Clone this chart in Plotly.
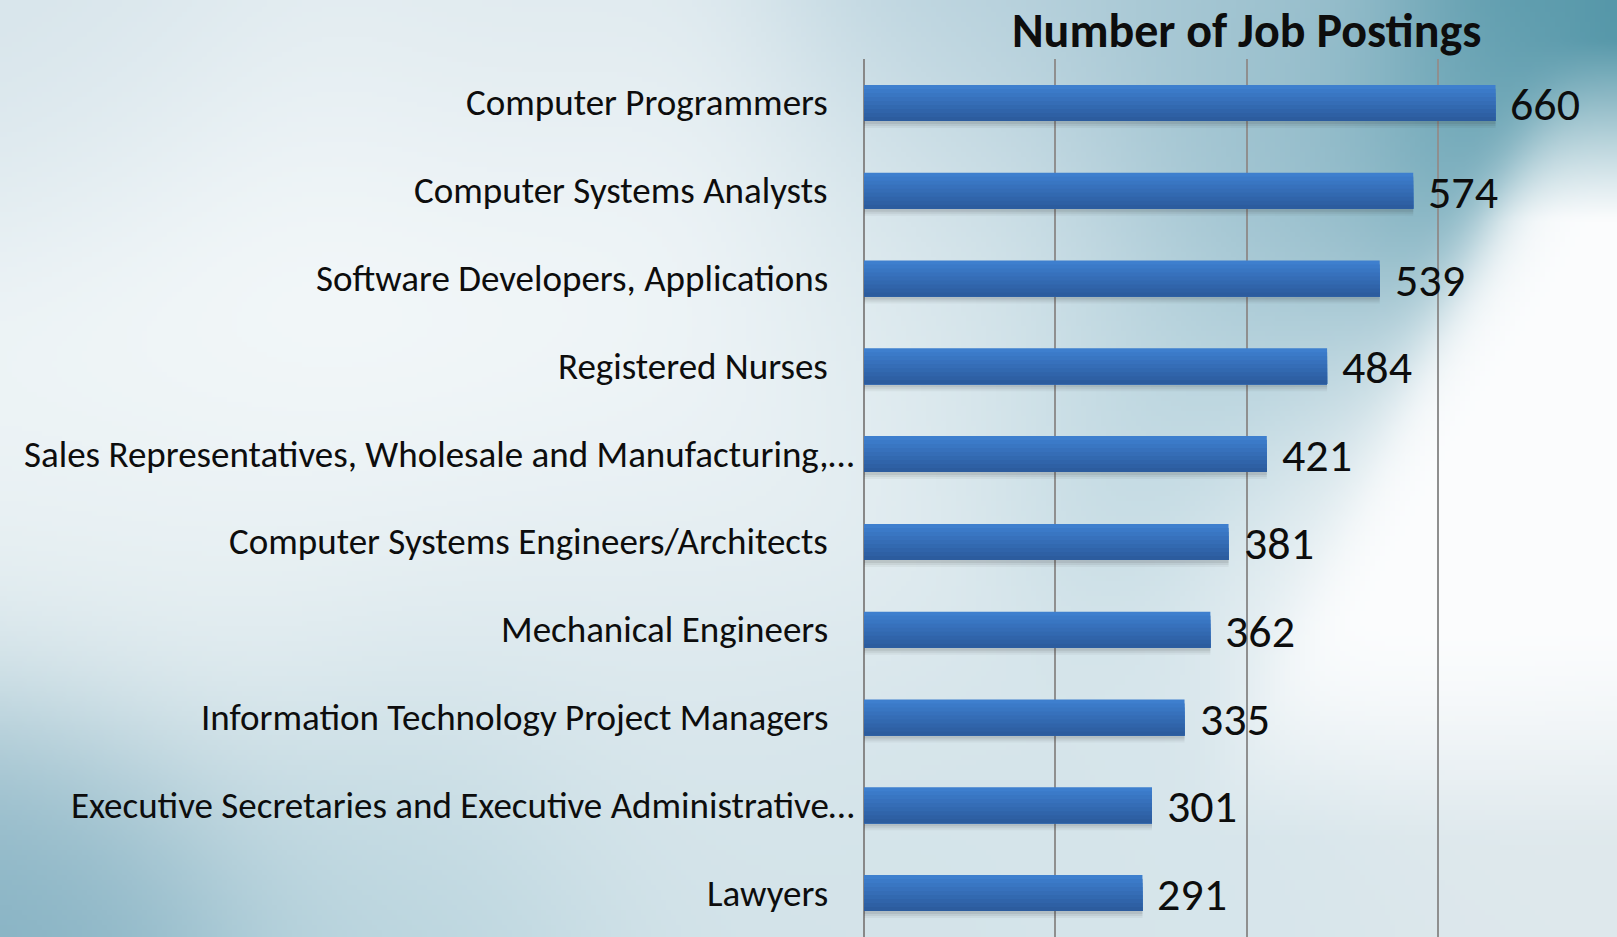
import base64
import struct
import zlib

import numpy as np
import plotly.graph_objects as go

# ---------------- data ----------------
categories = [
    "Computer Programmers",
    "Computer Systems Analysts",
    "Software Developers, Applications",
    "Registered Nurses",
    "Sales Representatives, Wholesale and Manufacturing,…",
    "Computer Systems Engineers/Architects",
    "Mechanical Engineers",
    "Information Technology Project Managers",
    "Executive Secretaries and Executive Administrative…",
    "Lawyers",
]
values = [660, 574, 539, 484, 421, 381, 362, 335, 301, 291]
grid_ticks = [0, 200, 400, 600]
chart_title = "Number of Job Postings"

# ---------------- layout geometry ----------------
FIG_W, FIG_H = 1617, 937
M_L, M_R, M_T, M_B = 864, 0, 59, 0
PLOT_W = FIG_W - M_L - M_R
PLOT_H = FIG_H - M_T - M_B
X_MAX = 787


# ---------------- background image (soft gradient) ----------------
def hexrgb(h):
    h = h.lstrip("#")
    return np.array([int(h[i:i + 2], 16) for i in (0, 2, 4)], dtype=float)


BW, BH = 324, 188
xs = (np.arange(BW) + 0.5) / BW * FIG_W
ys = (np.arange(BH) + 0.5) / BH * FIG_H
PX, PY = np.meshgrid(xs, ys)

blobs = [
    (100, 20, "#d3e2e9", 150),
    (500, 20, "#d8e5eb", 150),
    (1000, 30, "#b4cfdb", 150),
    (1250, 30, "#9fc3d0", 120),
    (1600, 20, "#4f93a5", 120),
    (1500, 150, "#6aa5b5", 100),
    (300, 250, "#f8fbfc", 200),
    (650, 300, "#f4f8fa", 200),
    (950, 300, "#d9e7ec", 150),
    (1200, 380, "#bad5df", 130),
    (1300, 200, "#94bccb", 120),
    (200, 600, "#e6eff2", 180),
    (600, 650, "#dde9ee", 180),
    (60, 910, "#80aec0", 130),
    (400, 900, "#b5d2dc", 150),
    (800, 880, "#d3e3e9", 150),
    (1200, 850, "#d6e5eb", 150),
    (1550, 850, "#dee8ec", 150),
    (1500, 500, "#fbfcfd", 150),
    (1380, 560, "#f9fbfc", 100),
]
acc = np.zeros((BH, BW, 3))
wsum = np.zeros((BH, BW))
for bx, by, col, sg in blobs:
    w = np.exp(-((PX - bx) ** 2 + (PY - by) ** 2) / (2 * sg ** 2))
    acc += w[..., None] * hexrgb(col)
    wsum += w
img = acc / wsum[..., None]

# diagonal white streak on the right
edge_x = 1415 - 0.46 * (PY - 363)
s = PX - edge_x
side = 1 / (1 + np.exp(-s / 20))
vert = np.clip((PY - 40) / 180, 0, 1) * np.clip((840 - PY) / 220, 0, 1)
ws = side * vert
img = img * (1 - ws[..., None]) + np.array([252, 253, 254]) * ws[..., None]
# teal band just left of the edge
wt = (1 - side) * np.exp(np.minimum(s, 0) / 110) * np.clip((700 - PY) / 600, 0, 1) * 0.35
img = img * (1 - wt[..., None]) + hexrgb("#6ea6b7") * wt[..., None]

img = np.clip(img, 0, 255).astype(np.uint8)


def png_bytes(arr):
    h, w, _ = arr.shape
    raw = b"".join(b"\x00" + arr[r].tobytes() for r in range(h))

    def chunk(tag, data):
        c = struct.pack(">I", len(data)) + tag + data
        return c + struct.pack(">I", zlib.crc32(tag + data) & 0xFFFFFFFF)

    return (b"\x89PNG\r\n\x1a\n"
            + chunk(b"IHDR", struct.pack(">IIBBBBB", w, h, 8, 2, 0, 0, 0))
            + chunk(b"IDAT", zlib.compress(raw, 9))
            + chunk(b"IEND", b""))


bg_uri = "data:image/png;base64," + base64.b64encode(png_bytes(img)).decode()

# ---------------- figure ----------------
fig = go.Figure()

BAR_W = 0.41
px_unit = BAR_W / 36.0  # category units per pixel (approx)

# shadow layers
for k, a in [(7, 0.05), (5, 0.07), (3, 0.09)]:
    fig.add_trace(go.Bar(
        x=values, y=categories, orientation="h",
        width=BAR_W, offset=-BAR_W / 2 + k * px_unit,
        marker=dict(color=f"rgba(40,40,40,{a})", line=dict(width=0)),
        hoverinfo="skip", showlegend=False,
    ))

# vertical gradient bars (stacked strips, each reaching the bar bottom)
top_c = np.array([62, 127, 206])
bot_c = np.array([44, 92, 158])
N = 9
for i in range(N):
    t = i / (N - 1)
    c = (top_c * (1 - t) + bot_c * t).astype(int)
    start = -BAR_W / 2 + i * BAR_W / N
    fig.add_trace(go.Bar(
        x=values, y=categories, orientation="h",
        width=BAR_W / 2 - start, offset=start,
        marker=dict(color=f"rgb({c[0]},{c[1]},{c[2]})", line=dict(width=0)),
        hoverinfo="skip", showlegend=False,
    ))

LABEL_FONT = "Calibri, Carlito, 'Open Sans', sans-serif"
annotations = []
for cat, val in zip(categories, values):
    annotations.append(dict(
        x=0, y=cat, xref="x", yref="y", text=cat, showarrow=False,
        xanchor="right", yanchor="middle",
        xshift=-8 if cat.endswith("…") else -34,
        font=dict(family=LABEL_FONT, size=37, color="#0d0d0d"),
    ))
    annotations.append(dict(
        x=val, y=cat, xref="x", yref="y", text=str(val), showarrow=False,
        xanchor="left", yanchor="middle", xshift=13, yshift=-1,
        font=dict(family=LABEL_FONT, size=46, color="#0d0d0d"),
    ))
annotations.append(dict(
    x=(1246 - M_L) / PLOT_W, y=1 + (M_T - 0) / PLOT_H, xref="paper", yref="paper",
    text=f"<b>{chart_title}</b>", showarrow=False, xanchor="center", yanchor="top",
    borderpad=0,
    font=dict(family=LABEL_FONT, size=48, color="#0d0d0d"),
))

fig.update_layout(
    width=FIG_W, height=FIG_H,
    margin=dict(l=M_L, r=M_R, t=M_T, b=M_B, pad=0),
    barmode="overlay",
    paper_bgcolor="rgba(0,0,0,0)",
    plot_bgcolor="rgba(0,0,0,0)",
    showlegend=False,
    annotations=annotations,
    images=[dict(
        source=bg_uri, xref="paper", yref="paper",
        x=-M_L / PLOT_W, y=1 + M_T / PLOT_H,
        sizex=FIG_W / PLOT_W, sizey=FIG_H / PLOT_H,
        xanchor="left", yanchor="top", sizing="stretch", layer="below",
    )],
    xaxis=dict(
        range=[0, X_MAX], tickvals=grid_ticks, showticklabels=False,
        showgrid=True, gridcolor="#8f8f8f", gridwidth=1.5,
        zeroline=True, zerolinecolor="#888888", zerolinewidth=2,
        showline=False, fixedrange=True,
    ),
    yaxis=dict(
        type="category", categoryorder="array", categoryarray=categories,
        range=[len(categories) - 0.5, -0.5], showticklabels=False,
        showgrid=False, zeroline=False, showline=False, fixedrange=True,
    ),
)

fig.write_html(
    "out.html",
    config={"displayModeBar": False},
    post_script="document.body.style.margin='0';document.body.style.overflow='hidden';",
)
